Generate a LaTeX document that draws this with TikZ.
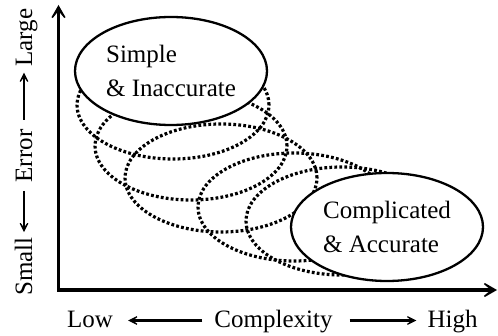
\documentclass[tikz,border=0pt]{standalone}
\usepackage{fontspec}
\setmainfont{Liberation Serif}
\usetikzlibrary{arrows.meta,shapes.geometric,calc}
\begin{document}
\begin{tikzpicture}[x=1pt,y=-1pt,
  ell/.style={shape=ellipse,minimum width=192pt,minimum height=108pt,inner sep=0pt},
  solidell/.style={ell,draw,fill=white,line width=2.3pt,align=left,
     font=\fontsize{25}{34}\selectfont},
  dotell/.style={ell,draw,line width=3.2pt,dash pattern=on 2.8pt off 2.2pt},
  axisline/.style={line width=3.3pt,line join=miter,{Stealth[length=20pt,width=23pt,inset=14pt]}-{Stealth[length=20pt,width=23pt,inset=14pt]}},
  lab/.style={font=\fontsize{25}{28}\selectfont,inner sep=0pt},
  labarrow/.style={line width=2.5pt,-{Stealth[length=15pt,width=15pt,inset=10.5pt]}}]
\useasboundingbox (0,0) rectangle (498,336);
% dotted ellipses
\node[dotell] (d1) at (173,105) {};
\node[dotell] (d2) at (191,146) {};
\node[dotell] (d3) at (221,178) {};
\node[dotell] (d4) at (294,207) {};
\node[dotell] (d5) at (342,221) {};
% solid ellipses
\node[solidell] (simple) at (171,71) {Simple\\\& Inaccurate};
\node[solidell] (compl) at (387,227) {Complicated\\\& Accurate};
% axes
\coordinate (ytip) at (58.5,5);
\coordinate (origin) at (58.5,290);
\coordinate (xtip) at (497,290);
\draw[axisline] (ytip) -- (origin) -- (xtip);
% horizontal label
\node[lab,anchor=base] (low) at (90,328) {Low};
\node[lab,anchor=base] (cplx) at (273.5,328) {Complexity};
\node[lab,anchor=base] (high) at (452.5,328) {High};
\draw[labarrow] ([xshift=-12pt]cplx.west |- 0,320.5) -- ([xshift=15pt]low.east |- 0,320.5);
\draw[labarrow] ([xshift=17pt]cplx.east |- 0,320.5) -- ([xshift=-11pt]high.west |- 0,320.5);
% vertical label
\node[lab,anchor=base,rotate=90] (large) at (32,37.5) {Large};
\node[lab,anchor=base,rotate=90] (error) at (32,156) {Error};
\node[lab,anchor=base,rotate=90] (small) at (32,266.5) {Small};
\coordinate (eu) at (24,120);
\coordinate (ed) at (24,191);
\draw[labarrow,shorten >=6pt] (eu) -- (eu |- large.west);
\draw[labarrow,shorten >=5pt] (ed) -- (ed |- small.east);
\end{tikzpicture}
\end{document}
